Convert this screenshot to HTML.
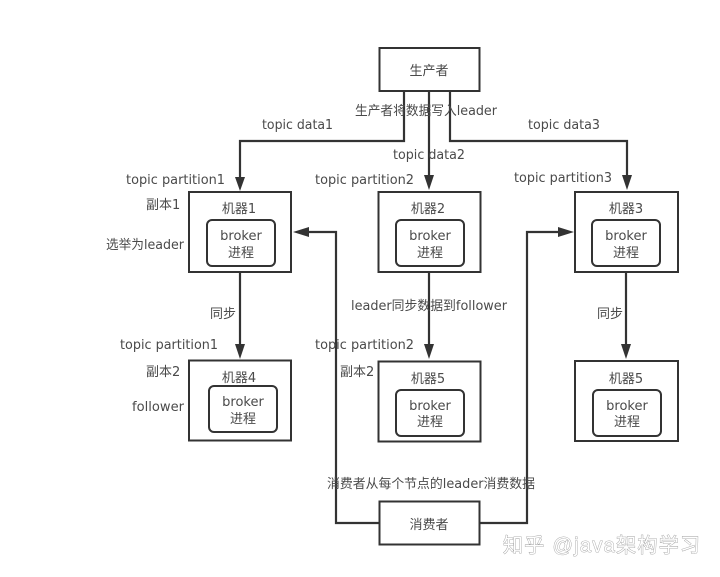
<!DOCTYPE html>
<html><head><meta charset="utf-8"><style>
html,body{margin:0;padding:0;background:#fff;width:720px;height:577px;overflow:hidden}
svg{display:block}
text{font-family:"DejaVu Sans","Noto Sans CJK SC",sans-serif;font-size:13px;fill:#4a4a4a}
tspan.c{font-family:"Noto Sans CJK SC",sans-serif;font-size:13px}
.m{text-anchor:middle}
.b{fill:#fff;stroke:#333;stroke-width:2}
.l{fill:none;stroke:#333;stroke-width:2.200}
.a{fill:#333}
</style></head><body>
<svg width="720" height="577" viewBox="0 0 720 577">
<rect width="720" height="577" fill="#fff"/>
<!-- connectors -->
<path class="l" d="M404 91V141H240V182"/>
<path class="l" d="M429 91V178"/>
<path class="l" d="M450 91V141H627V180"/>
<path class="l" d="M240 272V350"/>
<path class="l" d="M429 272V350"/>
<path class="l" d="M626 272V350"/>
<path class="l" d="M379 523H336V232H305"/>
<path class="l" d="M479 523H527V232H563"/>
<!-- boxes -->
<rect class="b" x="379.500" y="48" width="100" height="43"/>
<rect class="b" x="379.500" y="501.500" width="100" height="43"/>
<rect class="b" x="189" y="192" width="102" height="80"/>
<rect class="b" x="378.500" y="192" width="102" height="80"/>
<rect class="b" x="575" y="192" width="103" height="80"/>
<rect class="b" x="189" y="360.500" width="102" height="80"/>
<rect class="b" x="378.500" y="361.500" width="102" height="80"/>
<rect class="b" x="575" y="361" width="103" height="80"/>
<rect class="b" x="207" y="220" width="68" height="46" rx="5"/>
<rect class="b" x="396" y="220" width="68" height="46" rx="5"/>
<rect class="b" x="592" y="220" width="68" height="46" rx="5"/>
<rect class="b" x="209" y="386" width="68" height="46" rx="5"/>
<rect class="b" x="396" y="390" width="68" height="46" rx="5"/>
<rect class="b" x="593" y="390" width="68" height="46" rx="5"/>
<!-- arrowheads -->
<polygon class="a" points="235,177 245,177 240,191"/>
<polygon class="a" points="424,175 434,175 429,190"/>
<polygon class="a" points="622,175 632,175 627,190"/>
<polygon class="a" points="235,344 245,344 240,359"/>
<polygon class="a" points="424,344 434,344 429,359"/>
<polygon class="a" points="621,344 631,344 626,359"/>
<polygon class="a" points="293,232 309,227 309,237"/>
<polygon class="a" points="574,232 558,227 558,237"/>
<!-- box labels -->
<text class="m" x="429" y="75"><tspan class="c">生产者</tspan></text>
<text class="m" x="429" y="529"><tspan class="c">消费者</tspan></text>
<text class="m" x="239" y="213"><tspan class="c">机器</tspan>1</text>
<text class="m" x="428" y="213"><tspan class="c">机器</tspan>2</text>
<text class="m" x="626" y="213"><tspan class="c">机器</tspan>3</text>
<text class="m" x="239" y="382"><tspan class="c">机器</tspan>4</text>
<text class="m" x="428" y="383"><tspan class="c">机器</tspan>5</text>
<text class="m" x="626" y="383"><tspan class="c">机器</tspan>5</text>
<text class="m" x="241" y="240">broker</text><text class="m" x="241" y="257"><tspan class="c">进程</tspan></text>
<text class="m" x="430" y="240">broker</text><text class="m" x="430" y="257"><tspan class="c">进程</tspan></text>
<text class="m" x="626" y="240">broker</text><text class="m" x="626" y="257"><tspan class="c">进程</tspan></text>
<text class="m" x="243" y="406">broker</text><text class="m" x="243" y="423"><tspan class="c">进程</tspan></text>
<text class="m" x="430" y="410">broker</text><text class="m" x="430" y="426"><tspan class="c">进程</tspan></text>
<text class="m" x="627" y="410">broker</text><text class="m" x="627" y="426"><tspan class="c">进程</tspan></text>
<!-- edge labels -->
<text x="355" y="115" textLength="142" lengthAdjust="spacingAndGlyphs"><tspan class="c">生产者将数据写入</tspan>leader</text>
<text x="262" y="129" textLength="71" lengthAdjust="spacingAndGlyphs">topic data1</text>
<text x="393" y="159" textLength="72" lengthAdjust="spacingAndGlyphs">topic data2</text>
<text x="528" y="129" textLength="72" lengthAdjust="spacingAndGlyphs">topic data3</text>
<text x="126" y="184" textLength="99" lengthAdjust="spacingAndGlyphs">topic partition1</text>
<text x="315" y="184" textLength="99" lengthAdjust="spacingAndGlyphs">topic partition2</text>
<text x="514" y="182" textLength="98" lengthAdjust="spacingAndGlyphs">topic partition3</text>
<text x="146" y="209"><tspan class="c">副本</tspan>1</text>
<text x="106" y="249" textLength="78" lengthAdjust="spacingAndGlyphs"><tspan class="c">选举为</tspan>leader</text>
<text x="210" y="318"><tspan class="c">同步</tspan></text>
<text x="351" y="310" textLength="156" lengthAdjust="spacingAndGlyphs">leader<tspan class="c">同步数据到</tspan>follower</text>
<text x="597" y="318"><tspan class="c">同步</tspan></text>
<text x="120" y="349" textLength="98" lengthAdjust="spacingAndGlyphs">topic partition1</text>
<text x="315" y="349" textLength="99" lengthAdjust="spacingAndGlyphs">topic partition2</text>
<text x="146" y="376"><tspan class="c">副本</tspan>2</text>
<text x="340" y="376"><tspan class="c">副本</tspan>2</text>
<text x="132" y="411" textLength="52" lengthAdjust="spacingAndGlyphs">follower</text>
<text x="327" y="488" textLength="208" lengthAdjust="spacingAndGlyphs"><tspan class="c">消费者从每个节点的</tspan>leader<tspan class="c">消费数据</tspan></text>
<!-- watermark -->
<text x="503" y="552" textLength="197" lengthAdjust="spacing" style="font-family:'Liberation Sans','Noto Sans CJK SC',sans-serif;font-size:20px;fill:#fff;stroke:#999;stroke-width:.8px;paint-order:stroke">知乎 @java架构学习</text>
</svg>
</body></html>
